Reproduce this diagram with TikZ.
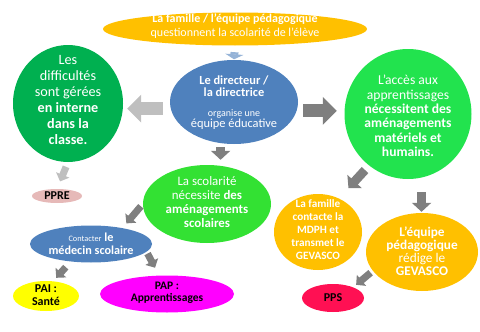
\documentclass[tikz,border=0pt]{standalone}
\usepackage{fontspec}
\setmainfont{Carlito}
\usepackage{tikz}
\usetikzlibrary{
  arrows.meta,%
  shapes.geometric
}
\definecolor{gold}{HTML}{FFC000}
\definecolor{darkgreen}{HTML}{00B050}
\definecolor{steel}{HTML}{4F81BD}
\definecolor{limeA}{HTML}{22E34E}
\definecolor{limeB}{HTML}{33E133}
\definecolor{crimson}{HTML}{FF1053}
\definecolor{rose}{HTML}{E6B9B8}
\definecolor{yell}{HTML}{FFFF00}
\definecolor{magen}{HTML}{FF00FF}
\definecolor{paleblue}{HTML}{95B3D7}
\definecolor{greyL}{HTML}{BFBFBF}
\definecolor{greyD}{HTML}{7F7F7F}
\tikzset{bubble/.style={ellipse, inner sep=0pt}}
\tikzset{txt/.style={align=center, text=white, inner sep=0pt}}
\tikzset{dtxt/.style={align=center, text=black, inner sep=0pt,
    font=\bfseries\fontsize{12}{13.3}\selectfont}}
% block arrows
\tikzset{bigarrow/.style={line width=13pt, -{Triangle[width=27pt,length=14pt]}},
  midarrow/.style={line width=9pt, -{Triangle[width=19pt,length=9pt]}},
  smallarrow/.style={line width=7pt, -{Triangle[width=14pt,length=7pt]}},
  tinyarrow/.style={line width=8pt, -{Triangle[width=18pt,length=5pt]}}}
\begin{document}
\begin{tikzpicture}[x=1pt, y=-1pt]
  \useasboundingbox (0,0) rectangle (480,332);
  % ellipses
  \node[bubble, fill=gold, minimum width=264pt, minimum height=33pt] (famille) at (235,29) {};
  \node[bubble, fill=darkgreen, minimum width=110pt, minimum height=117pt] (interne) at (68,103.5) {};
  \node[bubble, fill=steel, minimum width=128pt, minimum height=84pt] (directeur) at (234,102) {};
  \node[bubble, fill=limeA, minimum width=127pt, minimum height=130pt] (amenag) at (408,114) {};
  \node[bubble, fill=limeB, minimum width=128pt, minimum height=78pt] (scolarite) at (207,204) {};
  \node[bubble, fill=gold, minimum width=88pt, minimum height=76pt] (mdph) at (318,232) {};
  \node[bubble, fill=gold, minimum width=112pt, minimum height=78pt] (gevasco) at (422,252) {};
  \node[bubble, fill=crimson, minimum width=62pt, minimum height=28pt] (pps) at (333,298) {};
  \node[bubble, fill=rose, minimum width=50pt, minimum height=14pt] (ppre) at (57,196) {};
  \node[bubble, fill=steel, minimum width=122pt, minimum height=37pt] (medecin) at (91,244) {};
  \node[bubble, fill=yell, minimum width=66pt, minimum height=30pt] (pai) at (46,296) {};
  \node[bubble, fill=magen, minimum width=134pt, minimum height=37pt] (pap) at (167,294) {};

  % texts
  \node[txt, font=\fontsize{12}{13.3}\selectfont] (famille text) at ([yshift=3pt]famille.center)
    {\textbf{La famille / l'équipe pédagogique}\\questionnent la scolarité de l'élève};
  \node[txt, font=\fontsize{14.2}{16}\selectfont] (interne text) at ([yshift=3.5pt]interne.center)
    {Les\\difficultés\\sont gérées\\\textbf{en interne}\\\textbf{dans la}\\\textbf{classe.}};
  \node[txt, font=\fontsize{12.4}{11.7}\selectfont] (directeur text) at ([yshift=-1pt]directeur.center)
    {\textbf{Le directeur /}\\\textbf{la directrice}\\[8pt]
     \fontsize{10}{11.7}\selectfont organise une\\équipe éducative};
  \node[txt, font=\fontsize{13.6}{14.3}\selectfont] (amenag text) at ([yshift=-2pt]amenag.center)
    {L'accès aux\\apprentissages\\\textbf{nécessitent des}\\\textbf{aménagements}\\\textbf{matériels et}\\\textbf{humains.}};
  \node[txt, font=\fontsize{12.9}{14}\selectfont] (scolarite text) at ([yshift=2pt]scolarite.center)
    {La scolarité\\nécessite \textbf{des}\\\textbf{aménagements}\\\textbf{scolaires}};
  \node[txt, font=\bfseries\fontsize{11.2}{13}\selectfont] (mdph text) at ([yshift=2pt]mdph.center)
    {La famille\\contacte la\\MDPH et\\transmet le\\GEVASCO};
  \node[txt, font=\fontsize{13.3}{13}\selectfont] (gevasco text) at ([yshift=1pt]gevasco.center)
    {\textbf{L'équipe}\\\textbf{pédagogique}\\rédige le\\\textbf{GEVASCO}};
  \node[txt, font=\fontsize{12.2}{12.7}\selectfont] (medecin text) at (medecin.center)
    {{\fontsize{8.3}{12.7}\selectfont Contacter} \textbf{le}\\\textbf{médecin scolaire}};
  \node[dtxt] (pps text) at (pps.center) {PPS};
  \node[dtxt] (ppre text) at (ppre.center) {PPRE};
  \node[dtxt] (pai text) at ([yshift=1pt]pai.center) {PAI :\\Santé};
  \node[dtxt, font=\bfseries\fontsize{11.5}{12.3}\selectfont] (pap text) at ([yshift=1pt]pap.center)
    {PAP :\\Apprentissages};

  % arrows
  \draw[tinyarrow, paleblue, shorten <=6.5pt, shorten >=0.5pt] (famille.south) -- (directeur.north);
  \draw[bigarrow, greyL, shorten <=8pt, shorten >=4pt] (directeur.186) -- (interne.east |- directeur.186);
  \draw[bigarrow, greyD, shorten <=6.4pt, shorten >=7.5pt] (directeur.352) -- (amenag.west |- directeur.352);
  \draw[midarrow, greyD, shorten <=4pt, shorten >=5pt] (directeur.252) -- (directeur.252 |- scolarite.north);
  \draw[smallarrow, greyL, shorten <=5pt, shorten >=8pt] (interne.south) -- (ppre.north);
  \draw[smallarrow, greyD, shorten <=3pt, shorten >=6pt] (scolarite.west) -- (medecin.27);
  \draw[midarrow, greyD, shorten <=6pt, shorten >=14pt] (amenag.233) -- (mdph.58);
  \draw[midarrow, greyD, shorten <=14.5pt, shorten >=1pt] (amenag.282) -- (amenag.282 |- gevasco.north);
  \draw[smallarrow, greyD, shorten <=2.8pt, shorten >=3.7pt] (gevasco.201) -- (pps.28);
  \draw[smallarrow, greyD, shorten <=7.4pt, shorten >=4.5pt] (medecin.221) -- (pai.64);
  \draw[smallarrow, greyD, shorten <=2pt, shorten >=8.7pt] (medecin.352) -- (pap.113);
\end{tikzpicture}
\end{document}
